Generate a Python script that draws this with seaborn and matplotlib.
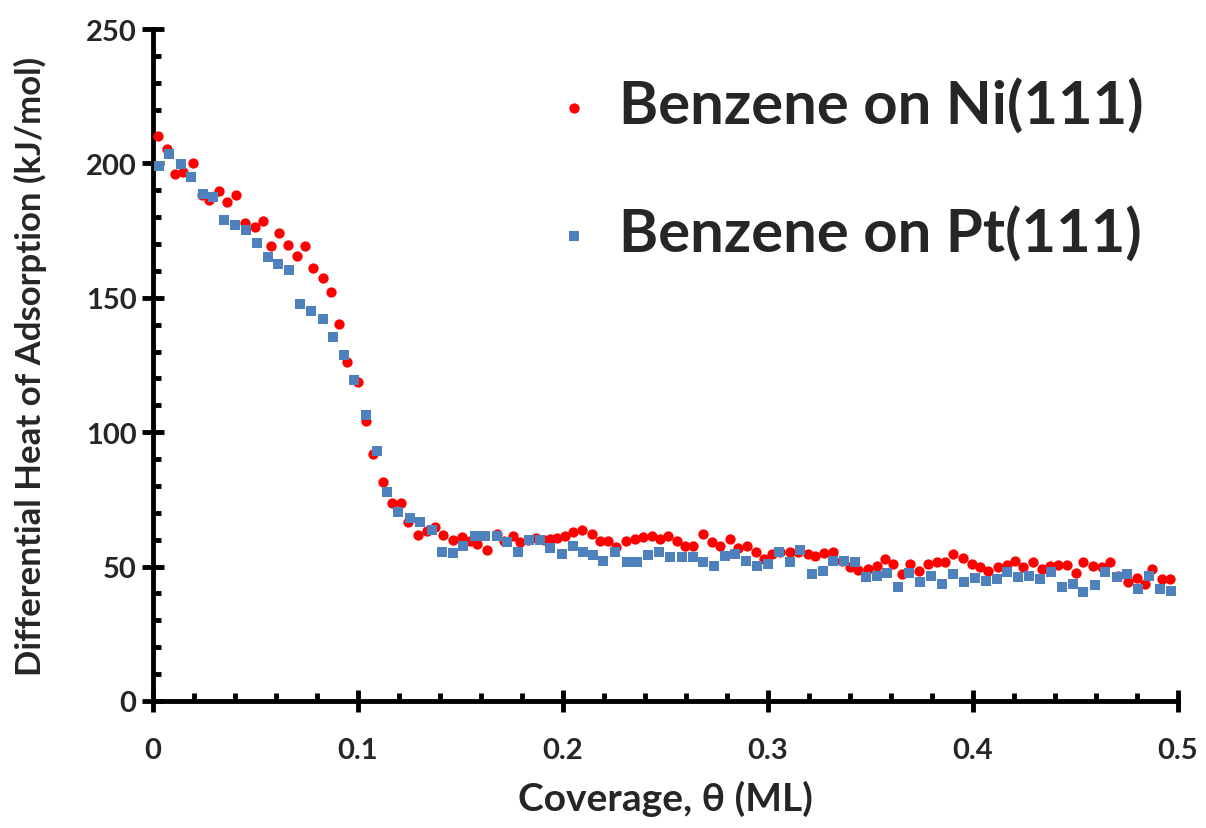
import matplotlib
matplotlib.use("Agg")
import matplotlib.pyplot as plt
import seaborn as sns
import pandas as pd
from matplotlib.ticker import MultipleLocator

# ---- data ----
ni_theta = [0.0026, 0.0070, 0.0107, 0.0148, 0.0194, 0.0237, 0.0275, 0.0323, 0.0362, 0.0405,
            0.0449, 0.0498, 0.0535, 0.0574, 0.0616, 0.0660, 0.0701, 0.0741, 0.0779, 0.0828,
            0.0868, 0.0909, 0.0948, 0.0999, 0.1038, 0.1075, 0.1124, 0.1164, 0.1208, 0.1245,
            0.1294, 0.1335, 0.1376, 0.1416, 0.1462, 0.1506, 0.1545, 0.1579, 0.1631, 0.1677,
            0.1710, 0.1758, 0.1790, 0.1830, 0.1870, 0.1905, 0.1937, 0.1970, 0.2010, 0.2051,
            0.2091, 0.2140, 0.2180, 0.2221, 0.2259, 0.2307, 0.2351, 0.2392, 0.2432, 0.2473,
            0.2514, 0.2554, 0.2595, 0.2636, 0.2681, 0.2725, 0.2766, 0.2815, 0.2855, 0.2896,
            0.2941, 0.2980, 0.3018, 0.3059, 0.3107, 0.3148, 0.3197, 0.3229, 0.3273, 0.3319,
            0.3359, 0.3400, 0.3441, 0.3489, 0.3530, 0.3571, 0.3611, 0.3652, 0.3693, 0.3738,
            0.3782, 0.3823, 0.3863, 0.3904, 0.3953, 0.3993, 0.4034, 0.4075, 0.4123, 0.4165,
            0.4205, 0.4245, 0.4291, 0.4335, 0.4376, 0.4416, 0.4457, 0.4502, 0.4538, 0.4587,
            0.4628, 0.4668, 0.4709, 0.4758, 0.4798, 0.4839, 0.4872, 0.4920, 0.4961]
ni_heat = [210.3, 205.4, 196.0, 196.7, 200.0, 188.2, 186.5, 189.8, 185.8, 188.2,
           178.0, 176.2, 178.5, 169.1, 174.0, 169.6, 165.4, 169.1, 161.0, 157.3,
           152.0, 140.3, 126.2, 118.8, 104.0, 91.9, 81.6, 73.5, 73.5, 66.7,
           61.8, 63.4, 64.6, 61.8, 60.0, 60.9, 59.5, 58.4, 56.3, 62.1,
           59.6, 61.3, 59.3, 60.0, 60.5, 60.0, 60.3, 60.6, 61.3, 62.7,
           63.7, 62.1, 59.6, 59.6, 57.2, 59.6, 60.3, 60.9, 61.3, 60.3,
           61.5, 59.6, 57.8, 57.8, 62.1, 59.3, 57.8, 60.3, 56.8, 57.8,
           55.3, 52.8, 54.7, 55.3, 55.3, 55.3, 54.7, 53.8, 55.1, 55.5,
           52.2, 49.7, 48.9, 49.1, 50.3, 52.8, 51.0, 47.2, 51.0, 48.5,
           51.0, 51.6, 51.6, 54.7, 53.3, 51.0, 49.7, 48.5, 49.7, 50.5,
           52.2, 49.7, 51.6, 49.1, 50.3, 50.6, 50.6, 47.8, 51.6, 50.1,
           49.7, 51.6, 46.6, 44.2, 45.6, 43.5, 49.1, 45.4, 45.4]

pt_theta = [0.0031, 0.0080, 0.0137, 0.0185, 0.0242, 0.0294, 0.0348, 0.0400, 0.0454, 0.0506,
            0.0562, 0.0611, 0.0665, 0.0717, 0.0769, 0.0828, 0.0877, 0.0933, 0.0982, 0.1038,
            0.1094, 0.1140, 0.1197, 0.1254, 0.1302, 0.1360, 0.1408, 0.1462, 0.1514, 0.1571,
            0.1620, 0.1677, 0.1725, 0.1782, 0.1836, 0.1888, 0.1937, 0.1994, 0.2047, 0.2096,
            0.2145, 0.2197, 0.2254, 0.2311, 0.2360, 0.2416, 0.2470, 0.2522, 0.2579, 0.2636,
            0.2684, 0.2737, 0.2790, 0.2839, 0.2893, 0.2948, 0.3002, 0.3055, 0.3107, 0.3156,
            0.3213, 0.3266, 0.3319, 0.3371, 0.3424, 0.3478, 0.3530, 0.3582, 0.3636, 0.3689,
            0.3741, 0.3794, 0.3847, 0.3904, 0.3958, 0.4010, 0.4063, 0.4115, 0.4167, 0.4221,
            0.4275, 0.4327, 0.4379, 0.4432, 0.4486, 0.4538, 0.4595, 0.4644, 0.4701, 0.4753,
            0.4807, 0.4860, 0.4912, 0.4964]
pt_heat = [199.1, 203.5, 199.8, 194.8, 188.6, 187.4, 178.9, 177.1, 175.2, 170.3,
           165.0, 162.6, 160.5, 147.7, 145.2, 142.1, 135.3, 128.7, 119.4, 106.5,
           93.1, 77.9, 70.4, 68.0, 66.7, 63.7, 55.5, 54.9, 57.5, 61.5,
           61.5, 61.5, 59.0, 55.3, 60.0, 60.0, 56.8, 54.7, 57.8, 55.5,
           54.3, 52.2, 55.3, 51.8, 51.8, 54.3, 55.3, 53.5, 53.5, 53.5,
           51.6, 50.3, 53.8, 54.7, 52.2, 50.3, 51.0, 55.3, 51.6, 56.3,
           47.2, 48.5, 52.2, 52.2, 51.6, 46.0, 46.4, 47.6, 42.3, 47.8,
           44.2, 46.6, 43.5, 47.2, 44.2, 45.8, 44.8, 45.4, 48.1, 46.0,
           46.6, 45.4, 48.1, 42.3, 43.5, 40.4, 43.2, 48.1, 46.0, 47.2,
           41.7, 46.6, 41.7, 41.1]

series_labels = ["Benzene on Ni(111)", "Benzene on Pt(111)"]
x_ticks = [0, 0.1, 0.2, 0.3, 0.4, 0.5]
x_tick_labels = ["0", "0.1", "0.2", "0.3", "0.4", "0.5"]
y_ticks = [0, 50, 100, 150, 200, 250]
x_title = "Coverage, θ (ML)"
y_title = "Differential Heat of Adsorption (kJ/mol)"

df_ni = pd.DataFrame({"theta": ni_theta, "heat": ni_heat})
df_pt = pd.DataFrame({"theta": pt_theta, "heat": pt_heat})

sns.set_theme(style="white")
plt.rcParams["font.family"] = ["Lato", "DejaVu Sans"]

fig = plt.figure(figsize=(12.06, 8.29), dpi=100)
ax = fig.add_axes([0.1269, 0.1532, 0.8499, 0.8106])

sns.scatterplot(data=df_ni, x="theta", y="heat", ax=ax, color="#FF0000", marker="o",
                s=55, linewidth=0, label=series_labels[0], zorder=3, clip_on=False)
sns.scatterplot(data=df_pt, x="theta", y="heat", ax=ax, color="#4F81BD", marker="s",
                s=62, linewidth=0, label=series_labels[1], zorder=4, clip_on=False)

ax.set_xlim(0, 0.5)
ax.set_ylim(0, 250)
ax.set_xticks(x_ticks)
ax.set_xticklabels(x_tick_labels)
ax.set_yticks(y_ticks)
ax.set_yticklabels([str(v) for v in y_ticks])
ax.xaxis.set_minor_locator(MultipleLocator(0.02))
ax.yaxis.set_minor_locator(MultipleLocator(10))

for side in ["top", "right"]:
    ax.spines[side].set_visible(False)
for side in ["left", "bottom"]:
    ax.spines[side].set_linewidth(3.5)
    ax.spines[side].set_color("black")

ax.tick_params(which="major", direction="inout", length=16, width=3.5, color="black",
               labelsize=21, pad=4, bottom=True, left=True)
ax.tick_params(axis="x", which="major", pad=18)
ax.tick_params(which="minor", direction="in", length=6, width=3.5, color="black",
               bottom=True, left=True)
for lab in ax.get_xticklabels() + ax.get_yticklabels():
    lab.set_fontweight("bold")

ax.set_xlabel(x_title, fontsize=28, fontweight="bold", labelpad=12)
ax.set_ylabel(y_title, fontsize=25, fontweight="bold", labelpad=28)
ax.grid(False)

leg = ax.legend(loc="upper right", bbox_to_anchor=(0.99, 0.963), frameon=False,
                fontsize=43, labelspacing=1.2, handletextpad=0.15, handlelength=1.2,
                borderaxespad=0)
for t in leg.get_texts():
    t.set_fontweight("bold")

fig.savefig("out.png", dpi=100, facecolor="white")
